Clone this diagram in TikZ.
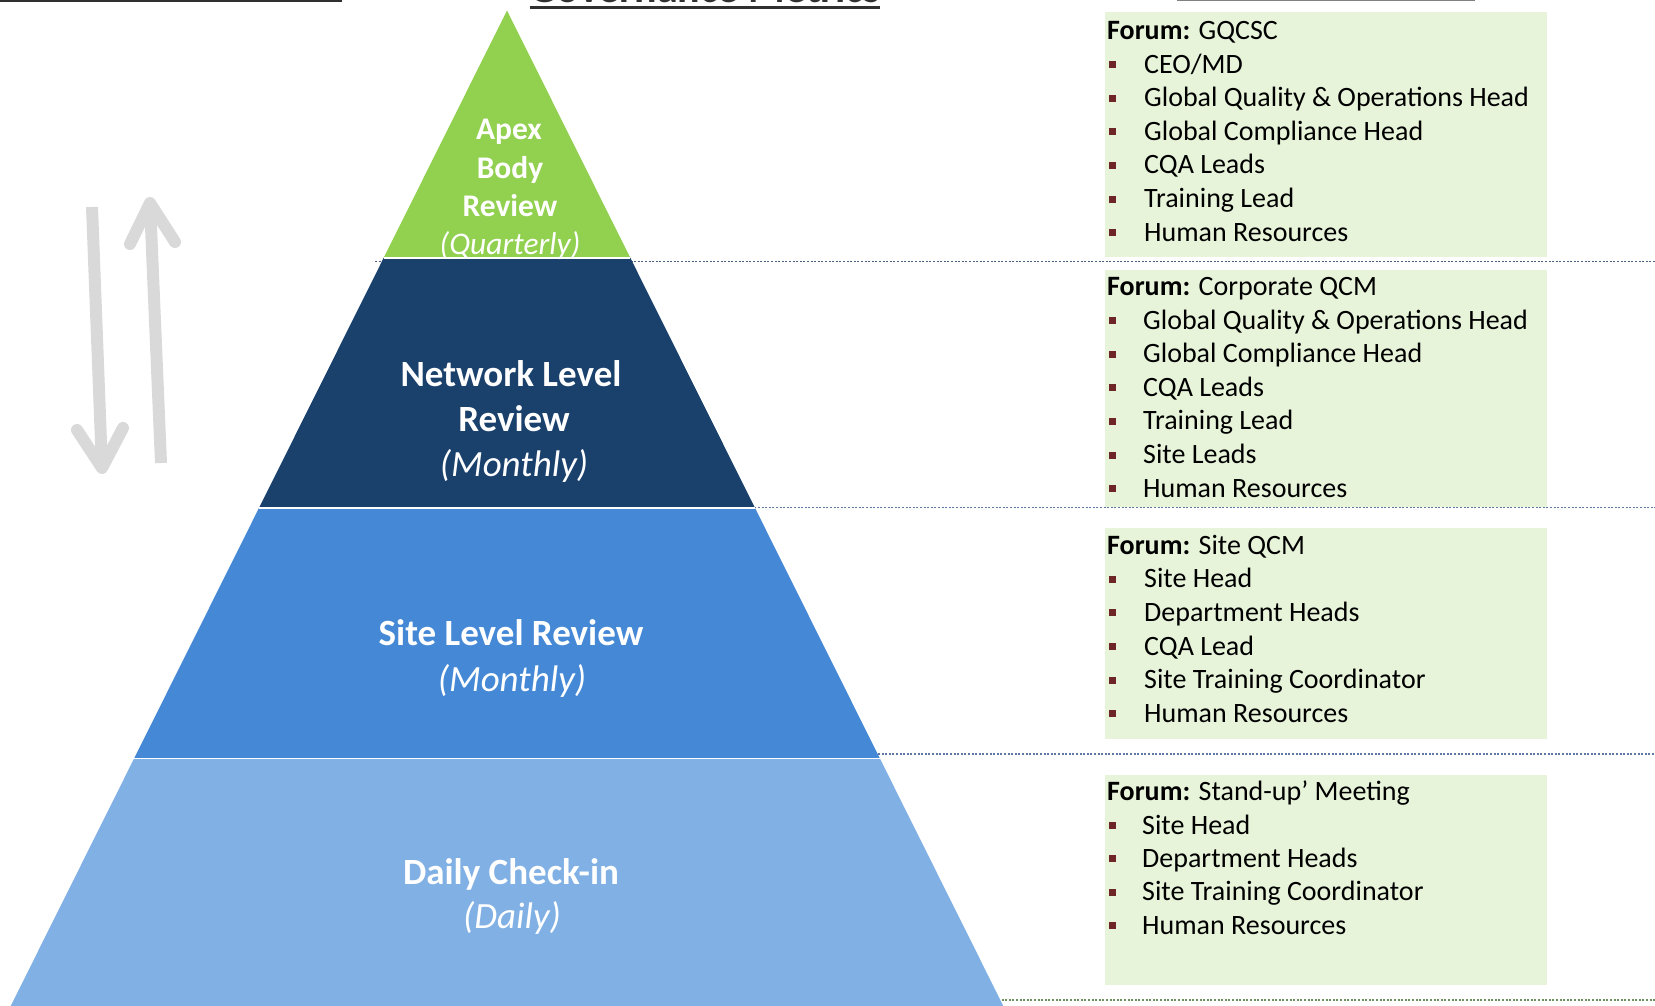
\documentclass[tikz,border=0pt]{standalone}
\usepackage{fontspec}
\setmainfont{Carlito}
\usetikzlibrary{calc}

\definecolor{apexgreen}{HTML}{92D050}
\definecolor{netnavy}{HTML}{1A406C}
\definecolor{sitemid}{HTML}{4589D6}
\definecolor{dailylight}{HTML}{80B0E4}
\definecolor{forumbg}{HTML}{E7F4DA}
\definecolor{bulletred}{HTML}{6E2525}
\definecolor{arrowgray}{HTML}{D9D9D9}
\definecolor{dotblue}{HTML}{5F78A6}
\definecolor{dotgreen}{HTML}{6E9160}
\definecolor{ruledark}{HTML}{303030}
\definecolor{rulegray}{HTML}{808080}

\begin{document}
\begin{tikzpicture}[x=1pt,y=-1pt,
  tiername/.style={text=white,font=\bfseries\fontsize{37}{44}\selectfont,anchor=base,inner sep=0pt},
  tierfreq/.style={text=white,font=\itshape\fontsize{37}{44}\selectfont,anchor=base,inner sep=0pt},
  apexname/.style={text=white,font=\bfseries\fontsize{31.5}{38}\selectfont,anchor=base,inner sep=0pt},
  apexfreq/.style={text=white,font=\itshape\fontsize{31.5}{38}\selectfont,anchor=base,inner sep=0pt},
  forumbox/.style={fill=forumbg},
  forumhead/.style={anchor=base west,inner sep=0pt,font=\fontsize{28}{33}\selectfont},
  member/.style={anchor=base west,inner sep=0pt,font=\fontsize{28}{33}\selectfont},
  bulletsq/.style={fill=bulletred,minimum size=7pt,inner sep=0pt},
  levelline/.style={line width=1.3pt,dash pattern=on 2pt off 1.6pt},
  sepline/.style={white,line width=1.6pt},
  arrowshaft/.style={arrowgray,line width=12pt,line cap=butt},
  arrowhead/.style={arrowgray,line width=12pt,line cap=round,line join=round},
  headrule/.style={line width=2.5pt}
]
\useasboundingbox (0,0) rectangle (1655,1006);
\clip (0,0) rectangle (1655,1006);

% ---------- header rules and section title ----------
\draw[headrule,ruledark] (0,1) -- (342,1);
\draw[rulegray,line width=1.5pt] (1177,0.5) -- (1475,0.5);
\node[anchor=base,inner sep=0pt,font=\bfseries\fontsize{42}{50}\selectfont,text=ruledark]
  (govtitle) at (705,3) {Governance Metrics};
\draw[headrule,ruledark] ($(govtitle.base west)+(0,4.5)$) -- ($(govtitle.base east)+(0,4.5)$);

% ---------- dotted level lines ----------
\draw[levelline,dotblue!80!black] (375,261.5) -- (1655,261.5);
\draw[levelline,dotblue] (740,507.5) -- (1655,507.5);
\draw[levelline,dotblue] (860,754) -- (1655,754);
\draw[levelline,dotgreen] (980,1000) -- (1655,1000);

% ---------- pyramid ----------
\coordinate (apex) at (507,10.5);
\coordinate (baseL) at (10.7,1006);
\coordinate (baseR) at (1003.3,1006);
\coordinate (l1) at ($(apex)!0.2485!(baseL)$);
\coordinate (r1) at ($(apex)!0.2485!(baseR)$);
\coordinate (l2) at ($(apex)!0.5!(baseL)$);
\coordinate (r2) at ($(apex)!0.5!(baseR)$);
\coordinate (l3) at ($(apex)!0.7515!(baseL)$);
\coordinate (r3) at ($(apex)!0.7515!(baseR)$);
\coordinate (l4) at ($(apex)!1.02!(baseL)$);
\coordinate (r4) at ($(apex)!1.02!(baseR)$);

\fill[apexgreen] (apex) -- (r1) -- (l1) -- cycle;
\fill[netnavy] (l1) -- (r1) -- (r2) -- (l2) -- cycle;
\fill[sitemid] (l2) -- (r2) -- (r3) -- (l3) -- cycle;
\fill[dailylight] (l3) -- (r3) -- (r4) -- (l4) -- cycle;
\draw[sepline] (l1) -- (r1);
\draw[sepline] (l2) -- (r2);
\draw[sepline] (l3) -- (r3);

% tier labels
\node[apexname] (apx1) at (509,139.7) {Apex};
\node[apexname] (apx2) at (510,178.7) {Body};
\node[apexname] (apx3) at (510,216.7) {Review};
\node[apexfreq] (apx4) at (510,254.5) {(Quarterly)};

\node[tiername] (net1) at (511,386) {Network Level};
\node[tiername] (net2) at (514,431.5) {Review};
\node[tierfreq] (net3) at (514,476) {(Monthly)};

\node[tiername] (site1) at (511,645.8) {Site Level Review};
\node[tierfreq] (site2) at (512,691.2) {(Monthly)};

\node[tiername] (day1) at (511,884) {Daily Check-in};
\node[tierfreq] (day2) at (512,928.4) {(Daily)};

% ---------- escalation / feedback arrows ----------
\coordinate (dnTop) at (92,207);
\coordinate (dnTip) at (102,468);
\coordinate (dnArmL) at (77,430);
\coordinate (dnArmR) at (123,428);
\coordinate (upBot) at (161,463);
\coordinate (upTip) at (150,203);
\coordinate (upArmL) at (130,244);
\coordinate (upArmR) at (175,242);
\draw[arrowshaft] (dnTop) -- (dnTip);
\draw[arrowhead] (dnArmL) -- (dnTip) -- (dnArmR);
\draw[arrowshaft] (upBot) -- (upTip);
\draw[arrowhead] (upArmL) -- (upTip) -- (upArmR);

% ---------- forum panels ----------
\fill[forumbox] (1105,12.5) rectangle (1547,256.5);
\fill[forumbox] (1105,270.2) rectangle (1547,506.6);
\fill[forumbox] (1105,527.8) rectangle (1547,738.9);
\fill[forumbox] (1105,774.7) rectangle (1547,984.8);

% GQCSC
\node[forumhead] (f1) at (1107,39.6) {\textbf{Forum:} GQCSC};
\foreach \t [count=\i] in {CEO/MD, Global Quality \& Operations Head, Global Compliance Head, CQA Leads, Training Lead, Human Resources}{
  \node[bulletsq] (f1b\i) at (1112,{39.6+33.6*\i-8.5}) {};
  \node[member] (f1m\i) at (1144,{39.6+33.6*\i}) {\t};
}

% Corporate QCM
\node[forumhead] (f2) at (1107,295.5) {\textbf{Forum:} Corporate QCM};
\foreach \t [count=\i] in {Global Quality \& Operations Head, Global Compliance Head, CQA Leads, Training Lead, Site Leads, Human Resources}{
  \node[bulletsq] (f2b\i) at (1112,{295.5+33.6*\i-8.5}) {};
  \node[member] (f2m\i) at (1143,{295.5+33.6*\i}) {\t};
}

% Site QCM
\node[forumhead] (f3) at (1107,554.2) {\textbf{Forum:} Site QCM};
\foreach \t [count=\i] in {Site Head, Department Heads, CQA Lead, Site Training Coordinator, Human Resources}{
  \node[bulletsq] (f3b\i) at (1112,{554.2+33.6*\i-8.5}) {};
  \node[member] (f3m\i) at (1144,{554.2+33.6*\i}) {\t};
}

% Stand-up meeting
\node[forumhead] (f4) at (1107,800.6) {\textbf{Forum:} Stand-up’ Meeting};
\foreach \t [count=\i] in {Site Head, Department Heads, Site Training Coordinator, Human Resources}{
  \node[bulletsq] (f4b\i) at (1112,{800.6+33.4*\i-8.5}) {};
  \node[member] (f4m\i) at (1142,{800.6+33.4*\i}) {\t};
}
\end{tikzpicture}
\end{document}
